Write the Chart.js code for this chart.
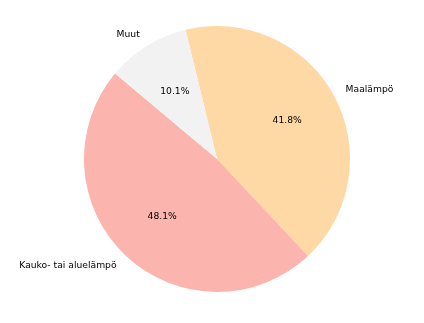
<!DOCTYPE html>
<html>
<head>
<meta charset="utf-8">
<script src="https://cdn.jsdelivr.net/npm/chart.js@4/dist/chart.umd.min.js"></script>
<style>
html,body{margin:0;padding:0;background:#fff;}
#wrap{width:424px;height:323px;}
</style>
</head>
<body>
<div id="wrap"><canvas id="c" width="424" height="323"></canvas></div>
<script>
// Data (clockwise order from the top)
const categories = ["Maalämpö", "Kauko- tai aluelämpö", "Muut"];
const values = [41.8, 48.1, 10.1];
const colors = ["#fed9a6", "#fbb4ae", "#f2f2f2"];

const labelPlugin = {
  id: 'pieLabels',
  afterDatasetsDraw(chart) {
    const ctx = chart.ctx;
    const meta = chart.getDatasetMeta(0);
    const total = values.reduce((a, b) => a + b, 0);
    ctx.save();
    ctx.font = '9.2px "DejaVu Sans"';
    ctx.fillStyle = '#000';
    ctx.textBaseline = 'middle';
    meta.data.forEach((arc, i) => {
      const p = arc.getProps(['x', 'y', 'startAngle', 'endAngle', 'outerRadius'], true);
      const mid = (p.startAngle + p.endAngle) / 2;
      const cx = Math.cos(mid), cy = Math.sin(mid);
      const lx = p.x + cx * p.outerRadius * 1.1;
      const ly = p.y + cy * p.outerRadius * 1.1;
      ctx.textAlign = cx > 0 ? 'left' : 'right';
      ctx.fillText(categories[i], lx, ly);
      const px = p.x + cx * p.outerRadius * 0.6;
      const py = p.y + cy * p.outerRadius * 0.6;
      ctx.textAlign = 'center';
      ctx.fillText((values[i] / total * 100).toFixed(1) + '%', px, py);
    });
    ctx.restore();
  }
};

new Chart(document.getElementById('c'), {
  type: 'pie',
  data: {
    labels: categories,
    datasets: [{
      data: values,
      backgroundColor: colors,
      borderWidth: 0
    }]
  },
  options: {
    responsive: false,
    animation: false,
    rotation: -13.7,
    layout: { padding: { left: 84, right: 74, top: 26, bottom: 31 } },
    plugins: {
      legend: { display: false },
      tooltip: { enabled: false },
      title: { display: false }
    }
  },
  plugins: [labelPlugin]
});
</script>
</body>
</html>
